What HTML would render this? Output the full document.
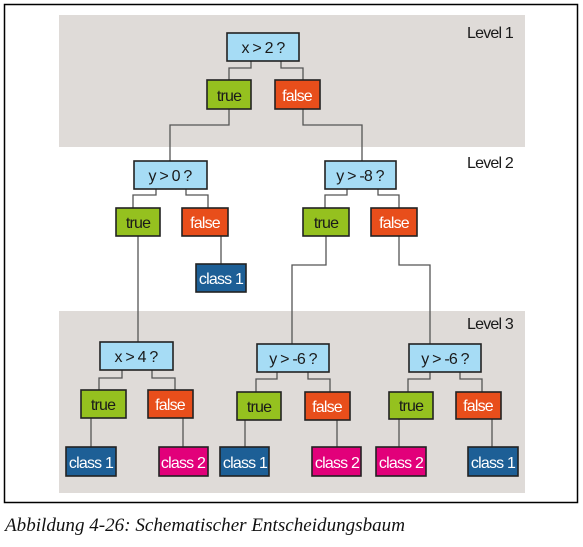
<!DOCTYPE html>
<html><head><meta charset="utf-8"><style>
html,body{margin:0;padding:0;background:#fff;width:583px;height:547px;overflow:hidden}
svg text{font-family:"Liberation Sans",sans-serif;font-size:16px;text-anchor:middle;letter-spacing:-0.8px}
.w{fill:#fff}.d{fill:#1a1a1a}
</style></head><body>
<svg width="583" height="547" viewBox="0 0 583 547" xmlns="http://www.w3.org/2000/svg">
<rect x="4.5" y="4.5" width="573" height="498" fill="#fff" stroke="#000" stroke-width="1.5"/>
<rect x="59" y="15" width="466" height="132" fill="#dfdbd8"/>
<rect x="59" y="311" width="466" height="182" fill="#dfdbd8"/>
<text x="490" y="38" class="d">Level 1</text>
<text x="490" y="168" class="d">Level 2</text>
<text x="490" y="329" class="d">Level 3</text>
<g fill="none" stroke="#555" stroke-width="1.3">
<polyline points="251,61 251,68 229,68 229,80"/>
<polyline points="281,61 281,68 303,68 303,80"/>
<polyline points="229,109 229,125 170,125 170,161"/>
<polyline points="303,109 303,125 362,125 362,161"/>
<polyline points="156,189 156,195 133,195 133,208"/>
<polyline points="186,189 186,195 208,195 208,208"/>
<polyline points="347,189 347,195 325,195 325,208"/>
<polyline points="378,189 378,195 399,195 399,208"/>
<polyline points="138,236 138,342"/>
<polyline points="221,236 221,264"/>
<polyline points="326,236 326,265 292,265 292,344"/>
<polyline points="399,236 399,265 430,265 430,344"/>
<polyline points="122,370 122,378 99,378 99,390"/>
<polyline points="152,370 152,378 175,378 175,390"/>
<polyline points="277,372 277,379 256,379 256,392"/>
<polyline points="308,372 308,379 330,379 330,392"/>
<polyline points="430,372 430,379 408,379 408,392"/>
<polyline points="460,372 460,379 482,379 482,392"/>
<line x1="91" y1="418" x2="91" y2="447"/>
<line x1="183" y1="418" x2="183" y2="447"/>
<line x1="245" y1="420" x2="245" y2="447"/>
<line x1="337" y1="420" x2="337" y2="447"/>
<line x1="399" y1="419" x2="399" y2="447"/>
<line x1="492" y1="419" x2="492" y2="447"/>
</g>
<g stroke="#222" stroke-width="1.6">
<rect x="227" y="33" width="72" height="28" fill="#a6dcf5"/>
<rect x="207" y="80" width="44" height="29" fill="#95c11f"/>
<rect x="275" y="80" width="45" height="29" fill="#e84e1b"/>
<rect x="134" y="161" width="73" height="28" fill="#a6dcf5"/>
<rect x="325" y="161" width="71" height="28" fill="#a6dcf5"/>
<rect x="116" y="208" width="44" height="28" fill="#95c11f"/>
<rect x="182" y="208" width="46" height="28" fill="#e84e1b"/>
<rect x="303" y="208" width="46" height="28" fill="#95c11f"/>
<rect x="371" y="208" width="46" height="28" fill="#e84e1b"/>
<rect x="196" y="264" width="50" height="28" fill="#1d5f96"/>
<rect x="100" y="342" width="73" height="28" fill="#a6dcf5"/>
<rect x="257" y="344" width="72" height="28" fill="#a6dcf5"/>
<rect x="409" y="344" width="72" height="28" fill="#a6dcf5"/>
<rect x="81" y="390" width="45" height="28" fill="#95c11f"/>
<rect x="148" y="390" width="45" height="28" fill="#e84e1b"/>
<rect x="237" y="392" width="44" height="28" fill="#95c11f"/>
<rect x="305" y="392" width="45" height="28" fill="#e84e1b"/>
<rect x="389" y="392" width="44" height="27" fill="#95c11f"/>
<rect x="456" y="392" width="45" height="27" fill="#e84e1b"/>
<rect x="66" y="447" width="50" height="29" fill="#1d5f96"/>
<rect x="159" y="447" width="49" height="29" fill="#e2007a"/>
<rect x="220" y="447" width="49" height="29" fill="#1d5f96"/>
<rect x="312" y="447" width="49" height="29" fill="#e2007a"/>
<rect x="376" y="447" width="50" height="29" fill="#e2007a"/>
<rect x="468" y="447" width="50" height="29" fill="#1d5f96"/>
</g>
<text x="263" y="53" class="d">x &gt; 2 ?</text>
<text x="229" y="101" class="d">true</text>
<text x="297" y="101" class="w">false</text>
<text x="170" y="181" class="d">y &gt; 0 ?</text>
<text x="360" y="181" class="d">y &gt; -8 ?</text>
<text x="138" y="228" class="d">true</text>
<text x="205" y="228" class="w">false</text>
<text x="326" y="228" class="d">true</text>
<text x="394" y="228" class="w">false</text>
<text x="221" y="284" class="w">class 1</text>
<text x="136" y="362" class="d">x &gt; 4 ?</text>
<text x="293" y="364" class="d">y &gt; -6 ?</text>
<text x="445" y="364" class="d">y &gt; -6 ?</text>
<text x="103" y="410" class="d">true</text>
<text x="170" y="410" class="w">false</text>
<text x="259" y="412" class="d">true</text>
<text x="327" y="412" class="w">false</text>
<text x="411" y="411" class="d">true</text>
<text x="478" y="411" class="w">false</text>
<text x="91" y="468" class="w">class 1</text>
<text x="183" y="468" class="w">class 2</text>
<text x="245" y="468" class="w">class 1</text>
<text x="337" y="468" class="w">class 2</text>
<text x="401" y="468" class="w">class 2</text>
<text x="493" y="468" class="w">class 1</text>
<text x="5" y="531" style="font-family:'Liberation Serif',serif;font-style:italic;font-size:19px;text-anchor:start;letter-spacing:0" fill="#111" textLength="400" lengthAdjust="spacingAndGlyphs">Abbildung 4-26: Schematischer Entscheidungsbaum</text>
</svg>
</body></html>
